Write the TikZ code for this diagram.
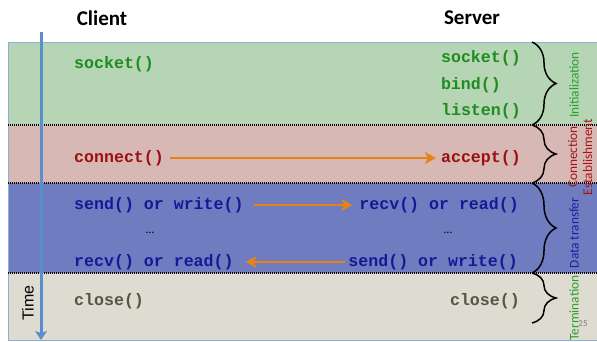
\documentclass[tikz,border=0pt]{standalone}
\usepackage{fontspec}
\setmainfont{Carlito}
\newfontfamily\codefont{Liberation Mono}
\newfontfamily\arialfont{Liberation Sans}
\usetikzlibrary{decorations.pathreplacing,arrows.meta,calc}
\definecolor{bgreen}{RGB}{181,213,180}
\definecolor{bred}{RGB}{216,184,180}
\definecolor{bblue}{RGB}{111,124,192}
\definecolor{bgray}{RGB}{222,220,209}
\definecolor{tgreen}{RGB}{30,140,30}
\definecolor{tred}{RGB}{155,16,16}
\definecolor{tblue}{RGB}{24,24,150}
\definecolor{tgray}{RGB}{88,84,68}
\definecolor{lgreen}{RGB}{40,160,40}
\definecolor{lred}{RGB}{165,20,20}
\definecolor{lblue}{RGB}{30,30,160}
\definecolor{timeblue}{RGB}{90,143,206}
\definecolor{edgeblue}{RGB}{140,175,215}
\definecolor{arrorange}{RGB}{232,130,20}
\tikzset{
  code/.style={font=\codefont\bfseries\fontsize{16.6}{18}\selectfont, inner sep=0pt},
  head/.style={font=\bfseries\fontsize{21}{24}\selectfont, inner sep=0pt},
  phase/.style={font=\fontsize{13.3}{15}\selectfont, rotate=90, inner sep=0pt, align=center},
  sep/.style={black, line width=1.6pt, dash pattern=on 1.2pt off 0.8pt},
  msg/.style={arrorange, line width=2.6pt, -{Stealth[length=11pt,width=12pt,inset=3pt]}},
  phasebrace/.style={decorate, decoration={brace, amplitude=24pt, aspect=0.5}, line width=1.5pt, black},
}
\begin{document}
\begin{tikzpicture}[x=1pt,y=-1pt]
\useasboundingbox (0,0) rectangle (597,341);
% bands
\fill[bgreen] (8,42) rectangle (597,125);
\fill[bred] (8,125) rectangle (597,183);
\fill[bblue] (8,183) rectangle (597,273);
\fill[bgray] (8,273) rectangle (597,340);
\draw[edgeblue, line width=0.8pt] (597,42) -- (8,42) -- (8,340) -- (597,340);
\draw[sep] (8,125) -- (597,125);
\draw[sep] (8,183) -- (597,183);
\draw[sep] (8,273) -- (597,273);
% slide number
\node[font=\fontsize{9}{10}\selectfont, text=gray, inner sep=0pt] (num) at (583,324) {25};
% headers
\node[head] (client) at (102,18) {Client};
\node[head] (server) at (472,18) {Server};
% time arrow
\coordinate (t0) at (41,32);
\coordinate (t1) at (41,340);
\draw[timeblue, line width=3pt, -{Stealth[length=9pt,width=12pt,inset=2pt]}] (t0) -- (t1);
\node[font=\arialfont\fontsize{16}{18}\selectfont, rotate=90, inner sep=0pt] (time) at (28,303) {Time};
% init
\node[code, text=tgreen, anchor=west] (csock) at (74,64) {socket()};
\node[code, text=tgreen, anchor=east] (ssock) at (521,58) {socket()};
\node[code, text=tgreen, anchor=east] (sbind) at (501,85) {bind()};
\node[code, text=tgreen, anchor=east] (slisten) at (521,111) {listen()};
% connect
\node[code, text=tred, anchor=west] (connect) at (74,158) {connect()};
\node[code, text=tred, anchor=east] (accept) at (521,158) {accept()};
\draw[msg, shorten <=6pt, shorten >=5pt] (connect.east) -- (accept.west);
% data
\node[code, text=tblue, anchor=west] (csend) at (74,205) {send() or write()};
\node[code, text=tblue, anchor=east] (srecv) at (519,205) {recv() or read()};
\node[code, text=tblue, anchor=west] (crecv) at (74,262) {recv() or read()};
\node[code, text=tblue, anchor=east] (ssend) at (518,262) {send() or write()};
\node[font=\fontsize{12}{14}\selectfont, text=black, inner sep=0pt] (cdots) at (150,233) {\ldots};
\node[font=\fontsize{12}{14}\selectfont, text=black, inner sep=0pt] (sdots) at (448,233) {\ldots};
\draw[msg, shorten <=10pt, shorten >=7pt] (csend.east) -- (srecv.west);
\draw[msg, shorten <=3pt, shorten >=12pt] (ssend.west) -- (crecv.east);
% close
\node[code, text=tgray, anchor=west] (cclose) at (74,301) {close()};
\node[code, text=tgray, anchor=east] (sclose) at (520,301) {close()};
% braces
\coordinate (b1a) at (532,42);  \coordinate (b1b) at (532,125);
\coordinate (b2a) at (532,125); \coordinate (b2b) at (532,183);
\coordinate (b3a) at (532,183); \coordinate (b3b) at (532,273);
\coordinate (b4a) at (532,273); \coordinate (b4b) at (532,323);
\draw[phasebrace] (b1a) -- (b1b);
\draw[phasebrace] (b2a) -- (b2b);
\draw[phasebrace] (b3a) -- (b3b);
\draw[phasebrace] (b4a) -- (b4b);
% phase labels
\node[phase, text=lgreen] (pinit) at (574,85) {Initialization};
\node[phase, text=lred] (pconn) at (580,157) {Connection\\Establishment};
\node[phase, text=lblue] (pdata) at (574,233) {Data transfer};
\node[phase, text=lgreen] (pterm) at (574,308) {Termination};
\end{tikzpicture}
\end{document}
